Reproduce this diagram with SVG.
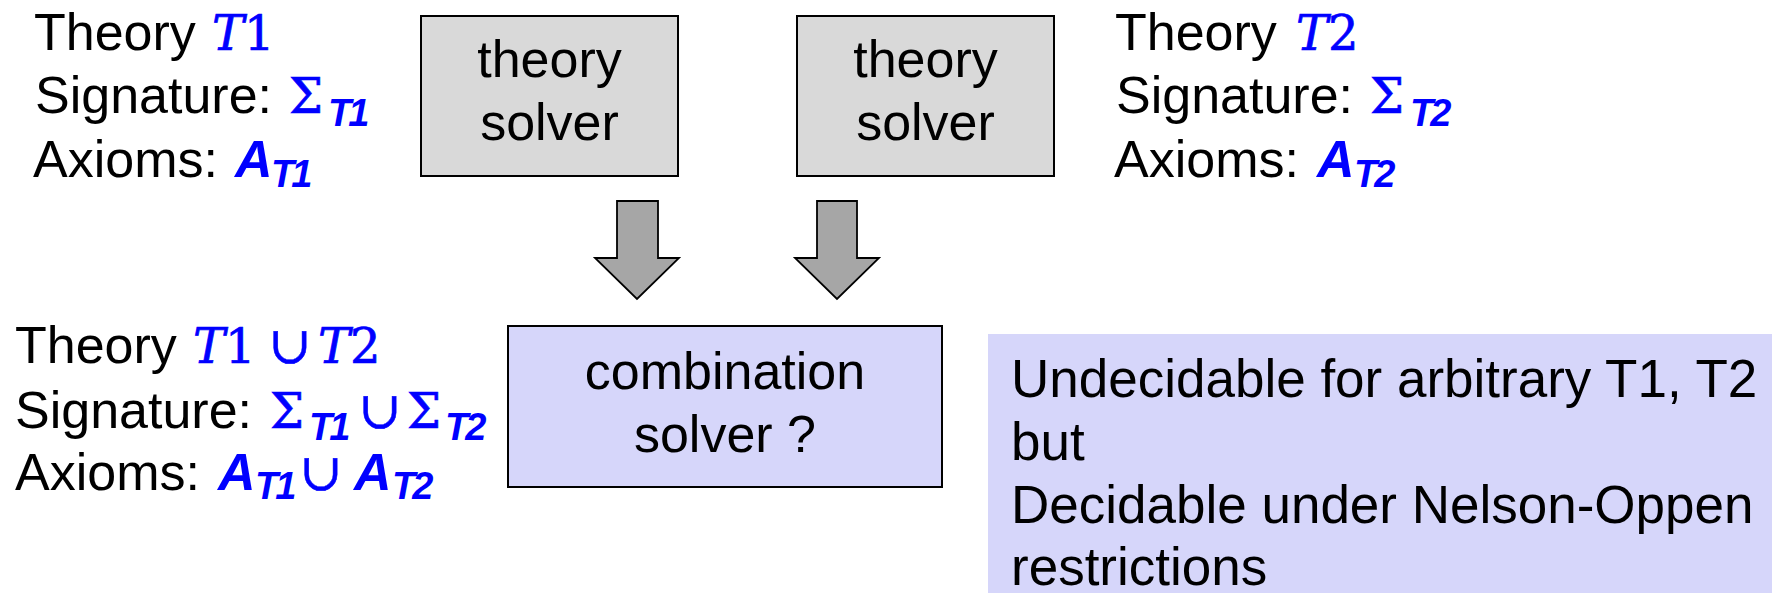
<svg xmlns="http://www.w3.org/2000/svg" width="1772" height="593" viewBox="0 0 1772 593">
  <style>
    .txt { font-family: "Liberation Sans", Arial, sans-serif; font-size: 52px; fill: #000; }
    .note-txt { font-size: 53px; }
    .mid { text-anchor: middle; }
    .mi { font-family: "DejaVu Serif", "Liberation Serif", serif; font-style: italic; font-size: 48px; fill: #0000ff; stroke: #0000ff; stroke-width: 0.7; }
    .mn { font-family: "DejaVu Serif", "Liberation Serif", serif; font-style: normal; font-size: 48px; fill: #0000ff; stroke: #0000ff; stroke-width: 0.7; }
    .op { font-family: "DejaVu Serif", "Liberation Serif", serif; font-style: normal; font-size: 52px; fill: #0000ff; stroke: #0000ff; stroke-width: 0.5; }
    .bi { font-family: "Liberation Sans", Arial, sans-serif; font-weight: bold; font-style: italic; font-size: 52px; fill: #0000ff; }
    .sub { font-family: "Liberation Sans", Arial, sans-serif; font-weight: bold; font-style: italic; font-size: 38px; fill: #0000ff; letter-spacing: -3px; }
    .solver { fill: #d9d9d9; stroke: #000; stroke-width: 2; }
    .combo { fill: #d6d6fa; stroke: #000; stroke-width: 2; }
    .note { fill: #d6d6fa; }
    .arrow { fill: #a6a6a6; stroke: #000; stroke-width: 1.8; stroke-linejoin: miter; }
  </style>

  <!-- Theory T1 description -->
  <g id="theory-t1">
    <text class="txt" x="34" y="50">Theory <tspan class="mi" x="212">T</tspan><tspan class="mn">1</tspan></text>
    <text class="txt" x="35" y="113">Signature: <tspan class="mn" x="289">Σ</tspan><tspan class="sub" x="328" dy="13">T1</tspan></text>
    <text class="txt" x="33" y="177">Axioms: <tspan class="bi" x="235">A</tspan><tspan class="sub" x="271" dy="10">T1</tspan></text>
  </g>

  <!-- Theory T2 description -->
  <g id="theory-t2">
    <text class="txt" x="1115" y="50">Theory <tspan class="mi" x="1296">T</tspan><tspan class="mn">2</tspan></text>
    <text class="txt" x="1116" y="113">Signature: <tspan class="mn" x="1370">Σ</tspan><tspan class="sub" x="1410" dy="13">T2</tspan></text>
    <text class="txt" x="1114" y="177">Axioms: <tspan class="bi" x="1317">A</tspan><tspan class="sub" x="1354" dy="10">T2</tspan></text>
  </g>

  <!-- Combined theory description -->
  <g id="theory-union">
    <text class="txt" x="15" y="363">Theory <tspan class="mi" x="193">T</tspan><tspan class="mn">1</tspan><tspan class="op" x="268">∪</tspan><tspan class="mi" x="318">T</tspan><tspan class="mn">2</tspan></text>
    <text class="txt" x="15" y="428">Signature: <tspan class="mn" x="270">Σ</tspan><tspan class="sub" x="309" dy="12">T1</tspan><tspan class="op" x="358" dy="-12">∪</tspan><tspan class="mn" x="407">Σ</tspan><tspan class="sub" x="445" dy="12">T2</tspan></text>
    <text class="txt" x="15" y="490">Axioms: <tspan class="bi" x="218">A</tspan><tspan class="sub" x="255" dy="9">T1</tspan><tspan class="op" x="299" dy="-9">∪</tspan><tspan class="bi" x="354">A</tspan><tspan class="sub" x="392" dy="9">T2</tspan></text>
  </g>

  <!-- Theory solver 1 -->
  <g id="solver-1">
    <rect class="solver" x="421" y="16" width="257" height="160"/>
    <text class="txt mid" x="549.5" y="77">theory</text>
    <text class="txt mid" x="549.5" y="140">solver</text>
  </g>

  <!-- Theory solver 2 -->
  <g id="solver-2">
    <rect class="solver" x="797" y="16" width="257" height="160"/>
    <text class="txt mid" x="925.5" y="77">theory</text>
    <text class="txt mid" x="925.5" y="140">solver</text>
  </g>

  <!-- Combination solver -->
  <g id="combination-solver">
    <rect class="combo" x="508" y="326" width="434" height="161"/>
    <text class="txt mid" x="725" y="389">combination</text>
    <text class="txt mid" x="725" y="452">solver ?</text>
  </g>

  <!-- Decidability note -->
  <g id="note">
    <rect class="note" x="988" y="334" width="784" height="259"/>
    <text class="txt note-txt" x="1011" y="397">Undecidable for arbitrary T1, T2</text>
    <text class="txt note-txt" x="1011" y="460">but</text>
    <text class="txt note-txt" x="1011" y="523">Decidable under Nelson-Oppen</text>
    <text class="txt note-txt" x="1011" y="585">restrictions</text>
  </g>

  <!-- Block arrows from the theory solvers to the combination solver -->
  <g id="connectors">
    <polygon class="arrow" points="617,201 658,201 658,258 679,258 637,299 595,258 617,258"/>
    <polygon class="arrow" points="817,201 857,201 857,258 879,258 837,299 795,258 817,258"/>
  </g>
</svg>
